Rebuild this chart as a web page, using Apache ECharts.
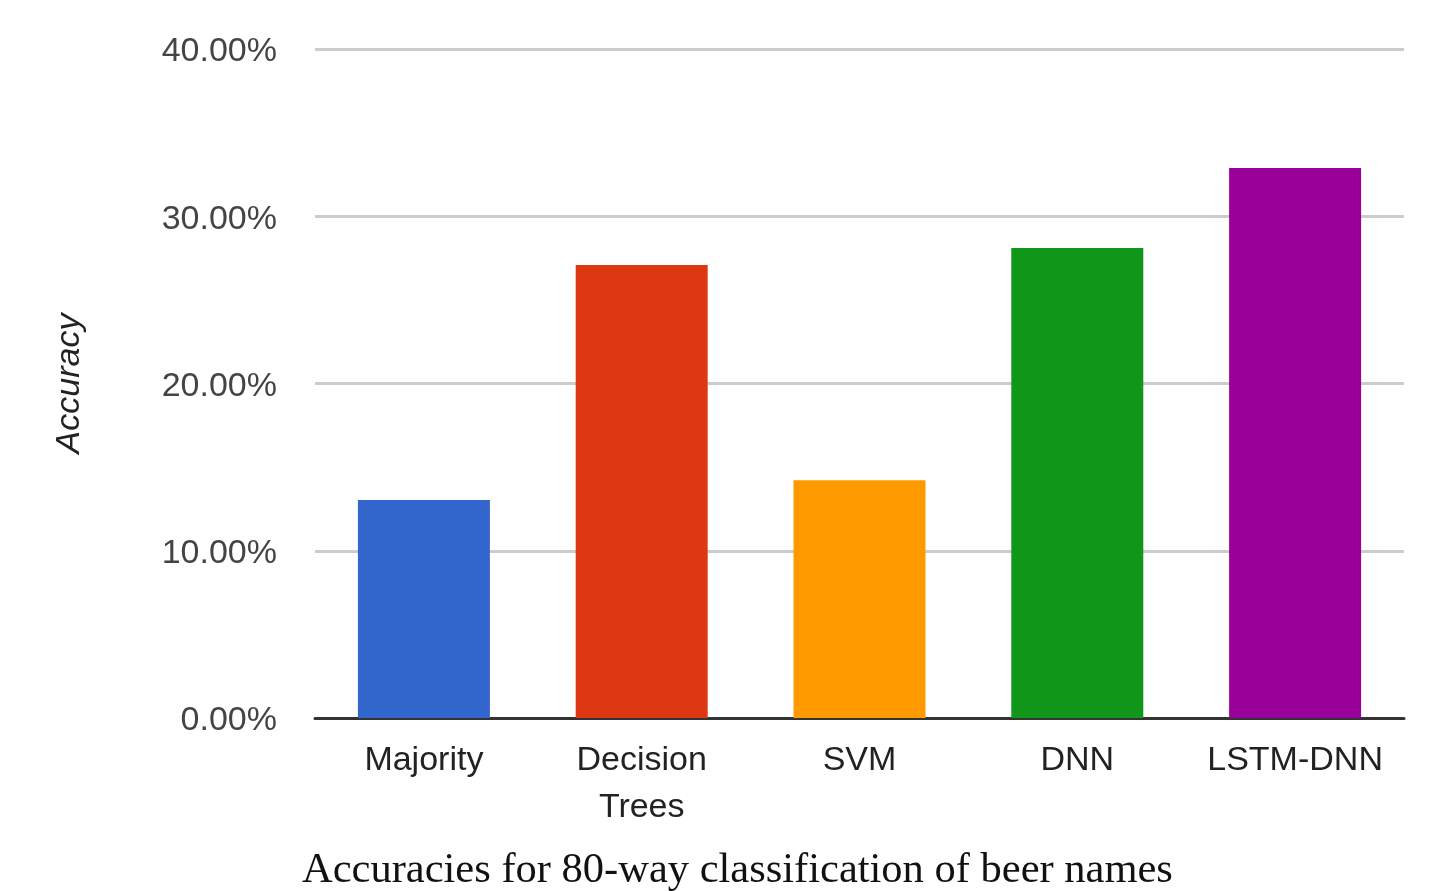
<!DOCTYPE html>
<html>
<head>
<meta charset="utf-8">
<title>Accuracies for 80-way classification of beer names</title>
<script src="https://cdn.jsdelivr.net/npm/echarts@6/dist/echarts.min.js"></script>
<style>
  html, body { margin: 0; padding: 0; background: #fff; }
  #chart { width: 1436px; height: 891px; }
</style>
</head>
<body>
<div id="chart"></div>
<script>
// Classifier names (category axis) and their accuracies in percent
const categories = ['Majority', 'Decision\nTrees', 'SVM', 'DNN', 'LSTM-DNN'];
const accuracy = [13.03, 27.08, 14.22, 28.10, 32.88];
const barColors = ['#3366cc', '#dc3912', '#ff9900', '#109618', '#990099'];
const yTicks = { min: 0, max: 40, interval: 10 };

const chart = echarts.init(document.getElementById('chart'), null, { renderer: 'canvas' });

const sansFont = 'Arial, "Liberation Sans", sans-serif';

chart.setOption({
  animation: false,
  backgroundColor: '#ffffff',
  title: {
    text: 'Accuracies for 80-way classification of beer names',
    left: 297,
    top: 844,
    textStyle: {
      fontFamily: '"Liberation Serif", "DejaVu Serif", serif',
      fontWeight: 'normal',
      fontSize: 42.5,
      color: '#111'
    }
  },
  grid: { left: 315, right: 32, top: 49, bottom: 173, containLabel: false },
  xAxis: {
    type: 'category',
    data: categories,
    axisLine: { show: true, lineStyle: { color: '#333', width: 3 } },
    axisTick: { show: false },
    axisLabel: {
      fontFamily: sansFont,
      fontSize: 34,
      lineHeight: 47,
      color: '#222',
      margin: 19,
      interval: 0
    }
  },
  yAxis: {
    type: 'value',
    min: yTicks.min,
    max: yTicks.max,
    interval: yTicks.interval,
    name: 'Accuracy',
    nameLocation: 'middle',
    nameGap: 228,
    nameRotate: 90,
    nameTextStyle: {
      fontFamily: sansFont,
      fontStyle: 'italic',
      fontSize: 34,
      color: '#222'
    },
    axisLine: { show: false },
    axisTick: { show: false },
    axisLabel: {
      fontFamily: sansFont,
      fontSize: 34,
      color: '#444',
      margin: 38,
      formatter: v => '{t|' + v.toFixed(2) + '%}',
      rich: {
        t: { fontFamily: sansFont, fontSize: 34, color: '#444', padding: [6, 0, 0, 0] }
      }
    },
    splitLine: { show: true, lineStyle: { color: '#cccccc', width: 3 } }
  },
  series: [{
    type: 'bar',
    data: accuracy.map((v, i) => ({ value: v, itemStyle: { color: barColors[i] } })),
    barCategoryGap: '39.4%',
    z: 1
  }]
});
</script>
</body>
</html>
